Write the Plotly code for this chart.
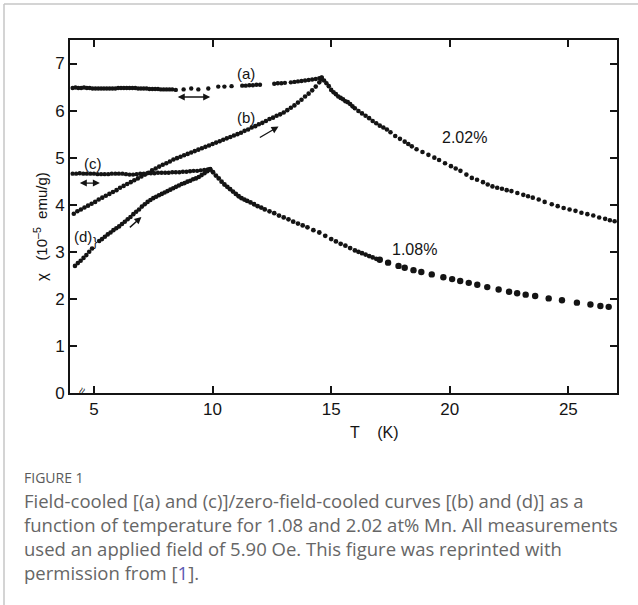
import plotly.graph_objects as go

# ---------------- data ----------------
# (a) field-cooled, 2.02 % Mn, below the peak
FC_202 = [(4.10, 6.48), (4.22, 6.49), (4.34, 6.48), (4.46, 6.48), (4.58, 6.49), (4.70, 6.48),
          (4.82, 6.48), (4.94, 6.47), (5.06, 6.47), (5.18, 6.47), (5.30, 6.47), (5.42, 6.47),
          (5.54, 6.47), (5.66, 6.47), (5.78, 6.47), (5.90, 6.47), (6.02, 6.48), (6.14, 6.48),
          (6.26, 6.48), (6.38, 6.48), (6.50, 6.48), (6.62, 6.48), (6.74, 6.48), (6.86, 6.47),
          (6.98, 6.47), (7.10, 6.47), (7.22, 6.47), (7.34, 6.46), (7.46, 6.46), (7.58, 6.46),
          (7.70, 6.46), (7.82, 6.45), (7.94, 6.45), (8.06, 6.45), (8.18, 6.45), (8.30, 6.45),
          (8.45, 6.44), (8.78, 6.45), (9.10, 6.47), (9.40, 6.45), (9.82, 6.47), (10.24, 6.51),
          (10.50, 6.51), (10.80, 6.52), (11.25, 6.53), (11.40, 6.53), (11.55, 6.54), (11.70, 6.54),
          (11.85, 6.55), (12.00, 6.55), (12.60, 6.57), (12.75, 6.58), (12.90, 6.58), (13.05, 6.59),
          (13.30, 6.60), (13.45, 6.61), (13.60, 6.62), (13.75, 6.63), (13.90, 6.64), (14.05, 6.65),
          (14.20, 6.66), (14.35, 6.67), (14.50, 6.69), (14.60, 6.70)]

# (b) zero-field-cooled, 2.02 % Mn
ZFC_202 = [(4.15, 3.81), (4.30, 3.86), (4.45, 3.90), (4.60, 3.94), (4.75, 3.98), (4.90, 4.02),
           (5.05, 4.06), (5.20, 4.11), (5.35, 4.15), (5.50, 4.19), (5.65, 4.23), (5.80, 4.27),
           (5.95, 4.31), (6.10, 4.36), (6.25, 4.40), (6.40, 4.44), (6.55, 4.48), (6.70, 4.52),
           (6.85, 4.56), (7.00, 4.60), (7.15, 4.64), (7.30, 4.68), (7.45, 4.73), (7.60, 4.77),
           (7.75, 4.81), (7.90, 4.85), (8.05, 4.88), (8.20, 4.92), (8.35, 4.96), (8.50, 4.99),
           (8.65, 5.02), (8.80, 5.05), (8.95, 5.08), (9.10, 5.11), (9.25, 5.14), (9.40, 5.17),
           (9.55, 5.20), (9.70, 5.23), (9.85, 5.26), (10.00, 5.29), (10.15, 5.32), (10.30, 5.35),
           (10.45, 5.38), (10.60, 5.41), (10.75, 5.44), (10.90, 5.47), (11.05, 5.50), (11.20, 5.53),
           (11.35, 5.57), (11.50, 5.60), (11.65, 5.64), (11.80, 5.67), (11.95, 5.71), (12.10, 5.74),
           (12.25, 5.78), (12.40, 5.82), (12.55, 5.85), (12.70, 5.89), (12.85, 5.92), (13.00, 5.96),
           (13.15, 6.01), (13.30, 6.06), (13.45, 6.11), (13.60, 6.17), (13.75, 6.23), (13.90, 6.30),
           (14.05, 6.36), (14.20, 6.43), (14.35, 6.51), (14.50, 6.60), (14.60, 6.66)]

# 2.02 % Mn above the peak
TAIL_202 = [(14.60, 6.70), (14.70, 6.64), (14.80, 6.58), (14.90, 6.52), (15.00, 6.44), (15.10, 6.39),
            (15.20, 6.35), (15.30, 6.30), (15.40, 6.27), (15.50, 6.24), (15.60, 6.20), (15.70, 6.18),
            (15.80, 6.14), (15.90, 6.09), (16.00, 6.05), (16.15, 5.99), (16.30, 5.94), (16.45, 5.89),
            (16.60, 5.84), (16.75, 5.78), (16.90, 5.73), (17.05, 5.68), (17.20, 5.64), (17.35, 5.60),
            (17.50, 5.54), (17.70, 5.46), (17.90, 5.40), (18.10, 5.34), (18.25, 5.29), (18.40, 5.24),
            (18.60, 5.18), (18.85, 5.12), (19.10, 5.06), (19.35, 5.00), (19.55, 4.95), (19.80, 4.88),
            (20.05, 4.82), (20.25, 4.77), (20.45, 4.72), (20.70, 4.64), (20.93, 4.57), (21.15, 4.53),
            (21.40, 4.48), (21.60, 4.43), (21.80, 4.39), (22.00, 4.36), (22.20, 4.34), (22.40, 4.31),
            (22.60, 4.29), (22.85, 4.25), (23.10, 4.21), (23.30, 4.18), (23.50, 4.15), (23.75, 4.11),
            (24.00, 4.06), (24.30, 4.01), (24.55, 3.97), (24.80, 3.93), (25.05, 3.90), (25.30, 3.87),
            (25.55, 3.83), (25.80, 3.80), (26.05, 3.77), (26.30, 3.73), (26.55, 3.70), (26.75, 3.67),
            (26.95, 3.65)]

# (c) field-cooled, 1.08 % Mn
FC_108 = [(4.10, 4.66), (4.25, 4.66), (4.40, 4.67), (4.55, 4.66), (4.70, 4.66), (4.85, 4.66),
          (5.00, 4.66), (5.15, 4.65), (5.30, 4.65), (5.45, 4.65), (5.60, 4.65), (5.75, 4.66),
          (5.90, 4.66), (6.05, 4.66), (6.20, 4.66), (6.35, 4.65), (6.50, 4.64), (6.65, 4.64),
          (6.80, 4.65), (6.95, 4.66), (7.10, 4.66), (7.25, 4.67), (7.40, 4.67), (7.55, 4.67),
          (7.70, 4.68), (7.85, 4.68), (8.00, 4.68), (8.15, 4.68), (8.30, 4.69), (8.45, 4.69),
          (8.60, 4.69), (8.75, 4.70), (8.90, 4.70), (9.05, 4.71), (9.20, 4.72), (9.35, 4.72),
          (9.50, 4.73), (9.65, 4.74), (9.80, 4.75), (9.90, 4.76)]

# (d) zero-field-cooled, 1.08 % Mn
ZFC_108 = [(4.20, 2.70), (4.32, 2.76), (4.44, 2.81), (4.56, 2.87), (4.68, 2.93), (4.80, 3.00),
           (4.92, 3.07), (5.22, 3.23), (5.34, 3.27), (5.46, 3.32), (5.58, 3.37), (5.70, 3.41),
           (5.82, 3.46), (5.94, 3.50), (6.06, 3.54), (6.18, 3.59), (6.30, 3.64), (6.42, 3.69),
           (6.54, 3.74), (6.66, 3.80), (6.78, 3.85), (6.90, 3.90), (7.02, 3.96), (7.14, 4.01),
           (7.26, 4.06), (7.38, 4.10), (7.50, 4.14), (7.62, 4.17), (7.74, 4.20), (7.86, 4.23),
           (7.98, 4.26), (8.10, 4.29), (8.22, 4.32), (8.34, 4.35), (8.46, 4.38), (8.58, 4.41),
           (8.70, 4.44), (8.82, 4.46), (8.94, 4.49), (9.06, 4.51), (9.18, 4.54), (9.30, 4.56),
           (9.42, 4.59), (9.54, 4.63), (9.66, 4.67), (9.78, 4.71), (9.90, 4.75)]

# 1.08 % Mn above the peak (dense part, then the sparse large dots)
TAIL_108_DENSE = [(9.90, 4.75), (10.02, 4.69), (10.14, 4.62), (10.26, 4.56), (10.38, 4.49), (10.50, 4.43),
                  (10.62, 4.38), (10.74, 4.33), (10.86, 4.28), (10.98, 4.23), (11.10, 4.18), (11.22, 4.14),
                  (11.34, 4.11), (11.46, 4.08), (11.60, 4.05), (11.75, 4.01), (11.90, 3.97), (12.05, 3.94),
                  (12.20, 3.90), (12.40, 3.86), (12.60, 3.82), (12.80, 3.77), (13.00, 3.73), (13.20, 3.69),
                  (13.40, 3.64), (13.60, 3.60), (13.80, 3.56), (14.00, 3.52), (14.25, 3.46), (14.50, 3.41),
                  (14.75, 3.34), (15.00, 3.27), (15.20, 3.22), (15.40, 3.17), (15.60, 3.13), (15.80, 3.08),
                  (16.00, 3.03), (16.15, 3.00), (16.30, 2.97), (16.45, 2.94), (16.60, 2.91), (16.75, 2.88),
                  (16.90, 2.85)]
TAIL_108_SPARSE = [(17.05, 2.83), (17.40, 2.77), (17.84, 2.70), (18.10, 2.66), (18.47, 2.61), (18.80, 2.57),
                   (19.24, 2.52), (19.73, 2.46), (20.10, 2.42), (20.44, 2.38), (20.80, 2.34), (21.16, 2.30),
                   (21.58, 2.25), (22.06, 2.20), (22.50, 2.15), (22.84, 2.12), (23.20, 2.09), (23.60, 2.06),
                   (24.17, 2.01), (24.73, 1.97), (25.36, 1.92), (25.93, 1.88), (26.35, 1.85), (26.70, 1.83)]

X_TICKS = [5, 10, 15, 20, 25]
Y_TICKS = [0, 1, 2, 3, 4, 5, 6, 7]
X_RANGE = [3.99, 27.05]
Y_RANGE = [0, 7.5]

CAPTION_HEAD = "FIGURE 1"
CAPTION_LINES = [
    "Field-cooled [(a) and (c)]/zero-field-cooled curves [(b) and (d)] as a",
    "function of temperature for 1.08 and 2.02 at% Mn. All measurements",
    "used an applied field of 5.90 Oe. This figure was reprinted with",
    'permission from [<span style="color:#5a5ab4">1</span>].',
]

# ---------------- layout geometry (pixels) ----------------
W, H = 638, 605
PL, PR, PT, PB = 70, 617, 40, 393


def px_x(px):
    return (px - PL) / (PR - PL)


def px_y(py):
    return (PB - py) / (PB - PT)


INK = "#141414"
FONT = "Liberation Sans"

fig = go.Figure()


def add_dots(points, size):
    fig.add_trace(go.Scatter(
        x=[p[0] for p in points], y=[p[1] for p in points],
        mode="markers", marker=dict(color=INK, size=size, line=dict(width=0)),
        showlegend=False, hoverinfo="skip"))


add_dots(FC_202, 4.4)
add_dots(ZFC_202, 4.6)
add_dots(TAIL_202, 4.6)
add_dots(FC_108, 4.4)
add_dots(ZFC_108, 4.6)
add_dots(TAIL_108_DENSE, 4.8)
add_dots(TAIL_108_SPARSE, 6.4)

ann = []


def label(x, y, text, size=15):
    ann.append(dict(x=x, y=y, xref="x", yref="y", text=text, showarrow=False,
                    xanchor="center", yanchor="middle",
                    font=dict(family=FONT, size=size, color=INK)))


label(11.4, 6.78, "(a)")
label(11.4, 5.85, "(b)")
label(4.95, 4.87, "(c)")
label(4.55, 3.32, "(d)")
label(5.08, 3.22, "}", 13)
label(20.6, 5.42, "2.02%", 16)
label(18.5, 3.04, "1.08%", 16)


def arrow(x0, y0, x1, y1, both=False):
    d = dict(x=x1, y=y1, ax=x0, ay=y0, xref="x", yref="y", axref="x", ayref="y",
             text="", showarrow=True, arrowhead=2, arrowsize=1, arrowwidth=1.4,
             arrowcolor=INK)
    if both:
        d.update(arrowside="end+start", startarrowhead=2, startarrowsize=1)
    ann.append(d)


arrow(8.47, 6.29, 9.90, 6.29, both=True)
arrow(11.93, 5.41, 12.78, 5.66)
arrow(4.34, 4.46, 5.25, 4.46, both=True)
arrow(6.45, 3.49, 7.00, 3.74)

# axis titles
ann.append(dict(x=px_x(40), y=px_y(227), xref="paper", yref="paper",
                xanchor="center", yanchor="middle",
                text="χ   (10<sup>–5</sup>  emu/g)", textangle=-90, showarrow=False,
                font=dict(family=FONT, size=15, color=INK)))
ann.append(dict(x=px_x(374), y=px_y(432), xref="paper", yref="paper",
                xanchor="center", yanchor="middle",
                text="T    (K)", showarrow=False,
                font=dict(family=FONT, size=16, color=INK)))
# axis break mark
ann.append(dict(x=px_x(82), y=px_y(391), xref="paper", yref="paper",
                xanchor="center", yanchor="middle",
                text="≈", textangle=-65, showarrow=False,
                font=dict(family=FONT, size=12, color=INK)))

# caption
ann.append(dict(x=px_x(22), y=px_y(477), xref="paper", yref="paper", xanchor="left",
                yanchor="middle", text=CAPTION_HEAD, showarrow=False,
                font=dict(family="Open Sans", size=14, color="#5a5a5a")))
for i, line in enumerate(CAPTION_LINES):
    ann.append(dict(x=px_x(22), y=px_y(500.5 + i * 24), xref="paper", yref="paper",
                    xanchor="left", yanchor="middle", text=line, showarrow=False,
                    font=dict(family="Open Sans", size=18.5, color="#666666")))

shapes = [
    dict(type="line", xref="paper", yref="paper", x0=px_x(4), x1=px_x(4),
         y0=px_y(606), y1=px_y(4), line=dict(color="#c6c6c6", width=1.5)),
    dict(type="line", xref="paper", yref="paper", x0=px_x(4), x1=px_x(640),
         y0=px_y(4), y1=px_y(4), line=dict(color="#c6c6c6", width=1.5)),
]

axis_common = dict(showline=True, linecolor=INK, linewidth=2, mirror="ticks",
                   ticks="inside", ticklen=7, tickwidth=1.5, tickcolor=INK,
                   showgrid=False, zeroline=False,
                   tickfont=dict(family=FONT, size=17, color=INK))

fig.update_layout(
    width=W, height=H,
    margin=dict(l=PL, r=W - PR, t=PT, b=H - PB, pad=0),
    paper_bgcolor="white", plot_bgcolor="white",
    xaxis=dict(range=X_RANGE, tickvals=X_TICKS, **axis_common),
    yaxis=dict(range=Y_RANGE, tickvals=Y_TICKS, **axis_common),
    annotations=ann, shapes=shapes,
)

fig.write_html("out.html")
